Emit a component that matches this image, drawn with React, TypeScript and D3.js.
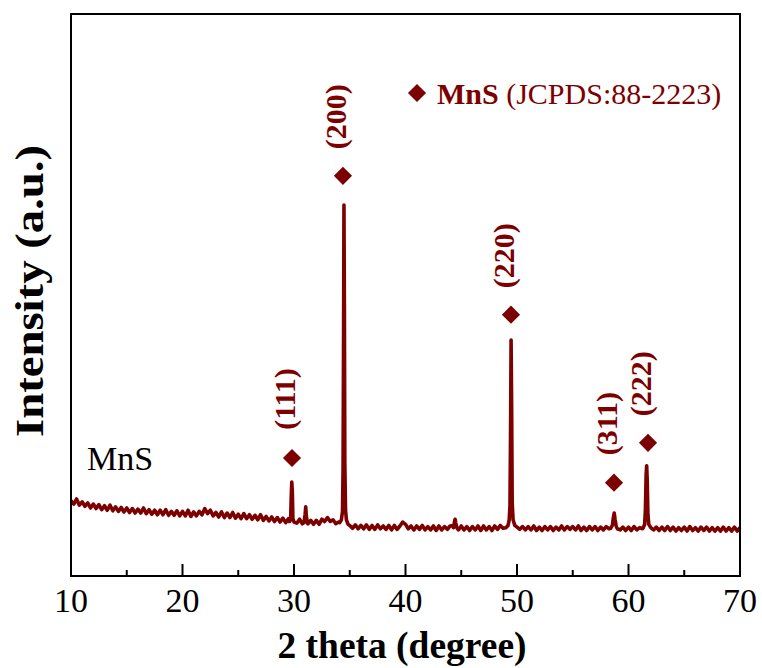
import React from 'react';
import * as d3 from 'd3';

// XRD pattern of MnS, intensity in arbitrary units (0..1000)
const xTicks = [10, 20, 30, 40, 50, 60, 70];
const minorTicks = [15, 25, 35, 45, 55, 65];

// background counts on the 0.25 degree measuring grid, starting at 10 deg
const bgStart = 10;
const bgStep = 0.25;
const bgCounts = [
  134, 128, 137, 126, 132, 124, 130, 121, 128, 120, 127, 118, 125, 117, 126, 116,
  123, 115, 122, 114, 121, 113, 120, 112, 119, 112, 121, 111, 118, 110, 117, 109,
  117, 109, 118, 108, 115, 108, 116, 107, 115, 107, 117, 106, 114, 107, 115, 109,
  120, 111, 117, 107, 113, 105, 114, 104, 112, 104, 113, 103, 110, 102, 111, 102,
  109, 101, 108, 100, 109, 99, 106, 98, 105, 97, 104, 96, 103, 95, 102, 94,
  102, 94, 101, 93, 100, 93, 99, 92, 99, 92, 101, 97, 104, 97, 100, 93,
  96, 92, 95, 93, 92, 85, 91, 84, 90, 84, 91, 83, 90, 83, 91, 84,
  89, 83, 90, 82, 90, 83, 89, 96, 92, 84, 89, 82, 89, 83, 90, 82,
  88, 82, 89, 81, 89, 82, 88, 83, 89, 90, 88, 82, 89, 82, 88, 81,
  88, 82, 89, 81, 89, 82, 88, 81, 89, 83, 90, 85, 86, 88, 88, 86,
  89, 83, 88, 82, 88, 82, 89, 81, 87, 81, 88, 82, 88, 81, 87, 82,
  89, 82, 88, 83, 88, 82, 89, 81, 87, 81, 88, 82, 88, 81, 87, 82,
  88, 84, 87, 85, 88, 82, 87, 81, 87, 81, 88, 82, 86, 84, 85, 83,
  88, 82, 87, 81, 87, 81, 88, 81, 87, 80, 86, 81, 87, 80, 88, 81,
  86, 80, 87, 81, 87, 80, 86, 80, 86, 80, 87, 80, 86, 80, 87, 80,
  86,
];

// peak profiles [2theta, counts]
const peak111 = [[29.6, 97], [29.7, 100], [29.75, 140], [29.8, 167], [29.85, 150], [29.9, 102], [30.0, 96]];
const peak31 = [[30.9, 95], [31.0, 110], [31.05, 123], [31.1, 108], [31.2, 94]];
const peak200 = [[34.1, 95], [34.25, 100], [34.35, 115], [34.4, 190], [34.45, 450], [34.48, 660], [34.52, 480], [34.56, 200], [34.62, 118], [34.7, 100], [34.85, 92], [35.0, 90]];
const peak44 = [[44.3, 86], [44.4, 97], [44.45, 101], [44.5, 95], [44.6, 86]];
const peak220 = [[49.0, 86], [49.2, 90], [49.3, 100], [49.37, 125], [49.42, 250], [49.47, 420], [49.52, 300], [49.57, 130], [49.65, 100], [49.8, 90], [50.0, 87]];
const peak311 = [[58.4, 85], [58.55, 90], [58.65, 105], [58.72, 112], [58.8, 100], [58.9, 88], [59.0, 84]];
const peak222 = [[61.3, 85], [61.45, 92], [61.52, 120], [61.58, 180], [61.63, 196], [61.68, 170], [61.74, 110], [61.82, 92], [62.0, 86]];
const peaks = [peak111, peak31, peak200, peak44, peak220, peak311, peak222];

// JCPDS 88-2223 reflections
const hkl = ['(111)', '(200)', '(220)', '(311)', '(222)'];
const markerTheta = [29.82, 34.39, 49.46, 58.7, 61.75];
const markerCounts = [210, 712, 465, 166, 237];

const W = 762;
const H = 668;
const left = 71, right = 740, top = 14, bottom = 576;
const red = '#7d0000';
const serif = '"Liberation Serif", "Times New Roman", serif';

export default function App() {
  const x = d3.scaleLinear().domain([10, 70]).range([left, right]);
  const y = d3.scaleLinear().domain([0, 1000]).range([bottom, top]);

  let pts: number[][] = bgCounts.map((c, i) => [bgStart + i * bgStep, c]);
  peaks.forEach(p => {
    const lo = p[0][0], hi = p[p.length - 1][0];
    pts = pts.filter(d => d[0] < lo || d[0] > hi).concat(p);
  });
  pts.sort((a, b) => a[0] - b[0]);

  const line = d3.line<number[]>().x(d => x(d[0])).y(d => y(d[1]));
  const diamond = d3.symbol().type(d3.symbolSquare).size(165)();

  return (
    <svg width={W} height={H} style={{ position: 'absolute', left: 0, top: 0, background: '#fff' }}>
      <path d={line(pts) || ''} fill="none" stroke={red} strokeWidth={3.6} strokeLinejoin="round" />

      {markerTheta.map((t, i) => (
        <g key={hkl[i]}>
          <path d={diamond} fill={red} transform={`translate(${x(t)},${y(markerCounts[i])}) rotate(45)`} />
          <text transform={`translate(${x(t) + 3},${y(markerCounts[i]) - 59}) rotate(-90)`}
            textAnchor="middle" fontFamily={serif} fontWeight="bold" fontSize={30} fill={red}>{hkl[i]}</text>
        </g>
      ))}

      <rect x={left} y={top} width={right - left} height={bottom - top} fill="none" stroke="#000" strokeWidth={2} />

      {xTicks.map(t => (
        <g key={t}>
          <line x1={x(t)} x2={x(t)} y1={bottom} y2={bottom - 12} stroke="#000" strokeWidth={2} />
          <text x={x(t)} y={612} textAnchor="middle" fontFamily={serif} fontSize={34}>{t}</text>
        </g>
      ))}
      {minorTicks.map(t => (
        <line key={t} x1={x(t)} x2={x(t)} y1={bottom} y2={bottom - 6} stroke="#000" strokeWidth={2} />
      ))}

      <text x={402} y={658} textAnchor="middle" fontFamily={serif} fontWeight="bold"
        fontSize={37} textLength={249} lengthAdjust="spacingAndGlyphs">2 theta (degree)</text>
      <text transform={`translate(43,291) rotate(-90)`} textAnchor="middle" fontFamily={serif} fontWeight="bold"
        fontSize={40} textLength={292} lengthAdjust="spacingAndGlyphs">Intensity (a.u.)</text>

      <text x={87} y={470} fontFamily={serif} fontSize={34}>MnS</text>

      <path d={diamond} fill={red} transform={`translate(417,93) rotate(45)`} />
      <text x={437} y={104} fontFamily={serif} fontSize={30} fill={red}>
        <tspan fontWeight="bold">MnS</tspan> (JCPDS:88-2223)
      </text>
    </svg>
  );
}
